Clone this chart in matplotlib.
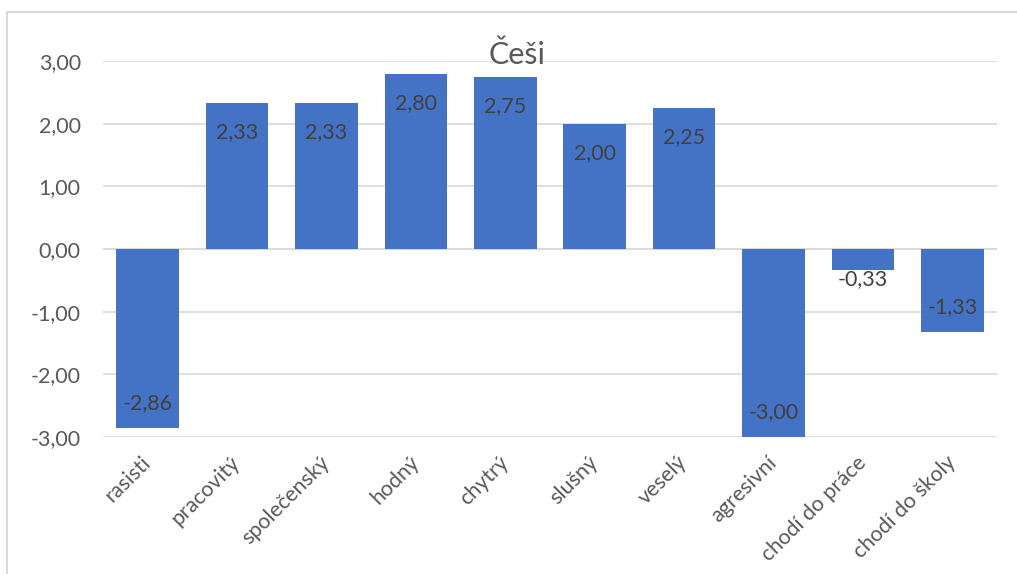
import numpy as np
import matplotlib.pyplot as plt
from matplotlib.lines import Line2D

categories = ['rasisti', 'pracovitý', 'společenský', 'hodný', 'chytrý',
              'slušný', 'veselý', 'agresivní', 'chodí do práce', 'chodí do školy']
values = [-2.86, 2.33, 2.33, 2.80, 2.75, 2.00, 2.25, -3.00, -0.33, -1.33]
y_ticks = [-3, -2, -1, 0, 1, 2, 3]

BAR_COLOR = '#4472C4'
GRID_COLOR = '#D9D9D9'
TEXT_COLOR = '#595959'
LABEL_COLOR = '#404040'

plt.rcParams['font.family'] = ['Lato', 'DejaVu Sans']

fig = plt.figure(figsize=(10.17, 5.74), dpi=100)
ax = fig.add_axes([103 / 1017, 1 - 437 / 574, (997 - 103) / 1017, (437 - 61) / 574])

x = np.arange(len(categories))
ax.bar(x, values, width=0.7, color=BAR_COLOR, zorder=3)

ax.set_xlim(-0.5, len(categories) - 0.5)
ax.set_ylim(-3, 3)
ax.set_yticks(y_ticks)
ax.set_yticklabels([f'{t:.2f}'.replace('.', ',') for t in y_ticks])
ax.yaxis.grid(True, color=GRID_COLOR, linewidth=1.2, zorder=0)
ax.axhline(0, color=GRID_COLOR, linewidth=1.2, zorder=1)
for s in ax.spines.values():
    s.set_visible(False)
ax.tick_params(axis='both', length=0, labelsize=15.5, labelcolor=TEXT_COLOR)
ax.tick_params(axis='y', pad=16)

ax.set_xticks(x)
ax.set_xticklabels(categories, rotation=45, ha='right', va='center', rotation_mode='anchor')
ax.tick_params(axis='x', pad=16)

# datove popisky (uvnitr konce sloupce)
for xi, v in zip(x, values):
    txt = f'{v:.2f}'.replace('.', ',')
    if abs(v) < 0.5:
        off = -7
    elif v > 0:
        off = -21
    else:
        off = 18
    ax.annotate(txt, (xi, v), xytext=(0, off), textcoords='offset points',
                ha='center', va='center', fontsize=15.5, color=LABEL_COLOR, zorder=4)

fig.text(0.508, 0.905, 'Češi', ha='center', va='center', fontsize=22, color=TEXT_COLOR)

# ramecek grafu
fig.add_artist(Line2D([7 / 1017, 7 / 1017], [0, 1 - 12 / 574], color=GRID_COLOR, linewidth=1.5))
fig.add_artist(Line2D([7 / 1017, 1], [1 - 12 / 574, 1 - 12 / 574], color=GRID_COLOR, linewidth=1.5))

fig.savefig('out.png', dpi=100)
